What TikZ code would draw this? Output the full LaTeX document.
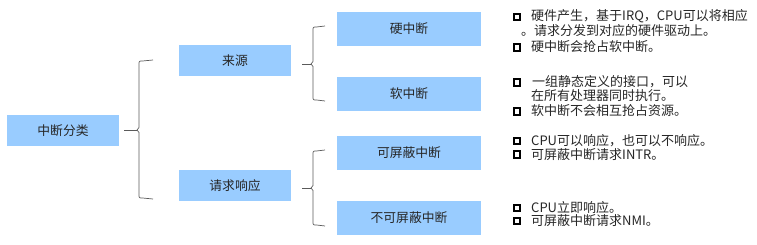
\documentclass[tikz,border=0pt]{standalone}
\usepackage{fontspec}
\setmainfont{Noto Sans CJK SC}
\definecolor{boxblue}{RGB}{153,204,255}
\definecolor{bracegray}{RGB}{90,90,90}
\newcommand\drawbrace[6]{%
  % #1 tip x, #2 vertical x, #3 end x, #4 top y, #5 mid y, #6 bottom y
  \coordinate (tip) at (#1,#5);
  \coordinate (topend) at (#3,#4-1);
  \coordinate (botend) at (#3,#6+1);
  \draw[bracestyle] (tip) -- (#2-2,#5);
  \draw[bracestyle] (topend) -- (#2+3.5,#4) .. controls (#2,#4) .. (#2,#4+3.5)
    -- (#2,#5-2.5) -- (#2-2,#5) -- (#2,#5+2.5) -- (#2,#6-3.5)
    .. controls (#2,#6) .. (#2+3.5,#6) -- (botend);
}
\begin{document}
\begin{tikzpicture}[x=1pt,y=-1pt,
  box/.style={fill=boxblue, inner sep=0pt, font=\fontsize{12.8}{15}\selectfont, text=black!85},
  smallbox/.style={box, minimum width=112pt, minimum height=31pt},
  leafbox/.style={box, minimum width=144pt, minimum height=34pt},
  bul/.style={draw=black, line width=1.7pt, minimum size=6.5pt, inner sep=0pt},
  txt/.style={anchor=west, inner sep=0pt, font=\fontsize{13}{15}\selectfont, text=black!85},
  bracestyle/.style={draw=bracegray, line width=0.7pt}]
\useasboundingbox (0,0) rectangle (757,245);

\node[smallbox] (root) at (63,130.5) {中断分类};
\node[smallbox] (src) at (235,61) {来源};
\node[smallbox] (req) at (235,185.5) {请求响应};
\node[leafbox] (hard) at (409,29) {硬中断};
\node[leafbox] (soft) at (409,94) {软中断};
\node[leafbox] (mask) at (409,153) {可屏蔽中断};
\node[leafbox] (nmask) at (409,218) {不可屏蔽中断};

\drawbrace{124}{139}{153}{61}{130}{198}
\drawbrace{302}{313}{325}{27}{64}{100}
\drawbrace{302}{313}{325}{151}{188}{225}

\node[bul] (b1) at (517,17) {};
\node[txt] (t1) at (531,16.5) {硬件产生，基于IRQ，CPU可以将相应};
\node[txt] (t1b) at (521,30.5) {。请求分发到对应的硬件驱动上。};
\node[bul] (b2) at (517,47.5) {};
\node[txt] (t2) at (531,47) {硬中断会抢占软中断。};

\node[bul] (b3) at (517,82.5) {};
\node[txt] (t3) at (532,82) {一组静态定义的接口，可以};
\node[txt] (t3b) at (531,96) {在所有处理器同时执行。};
\node[bul] (b4) at (517,111.5) {};
\node[txt] (t4) at (531,111) {软中断不会相互抢占资源。};

\node[bul] (b5) at (517,141) {};
\node[txt] (t5) at (531,141) {CPU可以响应，也可以不响应。};
\node[bul] (b6) at (517,154.5) {};
\node[txt] (t6) at (531,154.5) {可屏蔽中断请求INTR。};

\node[bul] (b7) at (517,208) {};
\node[txt] (t7) at (531,208) {CPU立即响应。};
\node[bul] (b8) at (517,221) {};
\node[txt] (t8) at (531,221) {可屏蔽中断请求NMI。};
\end{tikzpicture}
\end{document}
